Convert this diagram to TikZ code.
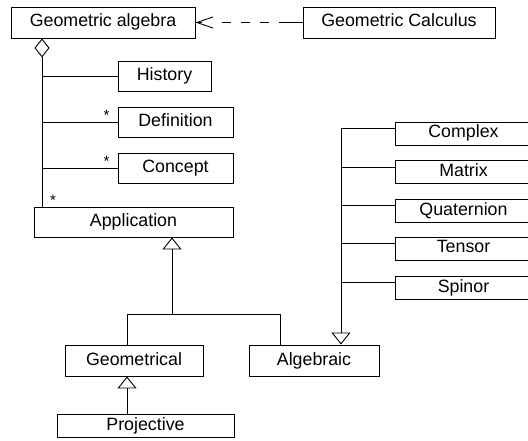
\documentclass[tikz,border=0pt]{standalone}
\usepackage{fontspec}
\setmainfont{Liberation Sans}
\usetikzlibrary{arrows.meta,calc}
\begin{document}
\begin{tikzpicture}[x=1pt,y=-1pt,
  line width=0.9pt,
  box/.style={draw, rectangle, inner sep=0pt, font=\fontsize{17.8}{20}\selectfont, text height=13pt, text depth=4pt},
  mult/.style={anchor=base, inner sep=0pt, font=\fontsize{15}{17}\selectfont},
  gen/.style={-{Triangle[open,length=12pt,width=19pt]}},
  aggr/.style={{Diamond[open,length=19pt,width=15pt]}-},
  dep/.style={dash pattern=on 24pt off 10pt on 9pt off 10pt on 9pt off 10pt on 9pt off 20pt, -{Straight Barb[length=16pt,width=11pt]}}
]
\useasboundingbox (0,0) rectangle (528,441);
\clip (0,0) rectangle (528,441);

% nodes
\node[box, minimum width=184pt, minimum height=31pt] (ga) at (103,22.5) {Geometric algebra};
\node[box, minimum width=192pt, minimum height=31pt] (gc) at (399,22.5) {Geometric Calculus};
\node[box, minimum width=93pt, minimum height=30pt] (hist) at (164.5,76) {History};
\node[box, minimum width=115pt, minimum height=30pt] (def) at (175.5,122) {Definition};
\node[box, minimum width=115pt, minimum height=30pt] (con) at (175.5,168) {Concept};
\node[box, minimum width=199pt, minimum height=30pt] (app) at (133.5,222) {Application};
\node[box, minimum width=138pt, minimum height=31pt] (geom) at (134,360.5) {Geometrical};
\node[box, minimum width=130pt, minimum height=31pt] (alg) at (314,360.5) {Algebraic};
\node[box, minimum width=177pt, minimum height=23pt] (proj) at (145.5,425.5) {Projective};
\node[box, minimum width=137pt, minimum height=23pt] (complex) at (463.5,133.5) {Complex};
\node[box, minimum width=137pt, minimum height=23pt] (matrix) at (463.5,172) {Matrix};
\node[box, minimum width=137pt, minimum height=23pt] (quat) at (463.5,210.5) {Quaternion};
\node[box, minimum width=137pt, minimum height=23pt] (tensor) at (463.5,248.5) {Tensor};
\node[box, minimum width=137pt, minimum height=23pt] (spinor) at (463.5,287.5) {Spinor};

% helper coordinates
\coordinate (sx) at (42,0);
\coordinate (j) at (172,314);
\coordinate (gx) at (127,0);
\coordinate (ax) at (280,0);
\coordinate (bx) at (341,0);

% dependency
\draw[dep] (gc.west) -- (ga.east);

% aggregation
\draw[aggr] (ga.south -| sx) -- (app.north -| sx);
\draw (hist.west) -- (hist.west -| sx);
\draw (def.west) -- (def.west -| sx);
\draw (con.west) -- (con.west -| sx);
\node[mult] (s1) at (106.5,121) {*};
\node[mult] (s2) at (106.5,167) {*};
\node[mult] (s3) at (53,206) {*};

% generalization to Application
\draw[gen] (geom.north -| gx) |- (j) -- (app.south -| j);
\draw (alg.north -| ax) |- (j);

% Projective to Geometrical
\draw[gen] (proj.north -| gx) -- (geom.south -| gx);

% kinds to Algebraic
\path ($(complex.north west)+(0,7)$) coordinate (tcomplex);
\draw[gen] (tcomplex) -| (alg.north -| bx);
\foreach \n in {matrix,quat,tensor,spinor}{
  \path ($(\n.north west)+(0,7)$) coordinate (t\n);
  \draw (t\n) -- (t\n -| bx);
}
\end{tikzpicture}
\end{document}
